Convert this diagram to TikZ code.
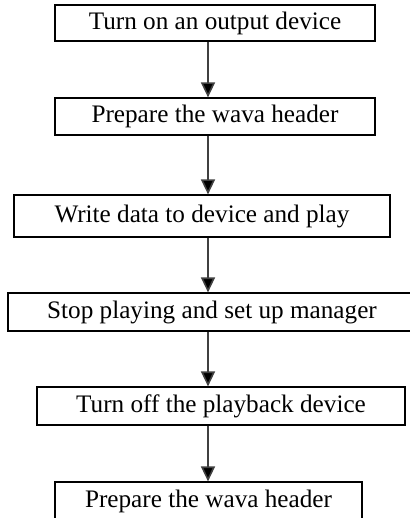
\documentclass[tikz,border=0pt]{standalone}
\usepackage{fontspec}
\setmainfont{Liberation Serif}
\usetikzlibrary{arrows.meta}

\begin{document}
\begin{tikzpicture}[x=0.5pt, y=-0.5pt,
  stepbox/.style={draw, line width=0.6pt, inner sep=0pt, font=\fontsize{12.6}{15}\selectfont},
  flow/.style={draw=black!75, line width=0.8pt, -{Triangle[length=7.5pt, width=7pt, fill=black]}}]

\useasboundingbox (0,0) rectangle (409,518) ;

\node [stepbox, minimum width=160pt, minimum height=18pt] (b1) at (215,23) {Turn on an output device} ;
\node [stepbox, minimum width=160pt, minimum height=18.5pt] (b2) at (215,116.5) {Prepare the wava header} ;
\node [stepbox, minimum width=188pt, minimum height=21pt] (b3) at (202,216) {Write data to device and play} ;
\node [stepbox, minimum width=204pt, minimum height=19pt] (b4) at (212,312) {Stop playing and set up manager} ;
\node [stepbox, minimum width=184pt, minimum height=19pt] (b5) at (221,406) {Turn off the playback device} ;
\node [stepbox, minimum width=153.5pt, minimum height=19pt] (b6) at (208.5,501) {Prepare the wava header} ;

\coordinate (axis) at (208,0) ;

\draw [flow] (b1.south -| axis) to (b2.north -| axis) ;
\draw [flow] (b2.south -| axis) to (b3.north -| axis) ;
\draw [flow] (b3.south -| axis) to (b4.north -| axis) ;
\draw [flow] (b4.south -| axis) to (b5.north -| axis) ;
\draw [flow] (b5.south -| axis) to (b6.north -| axis) ;

\end{tikzpicture}
\end{document}
